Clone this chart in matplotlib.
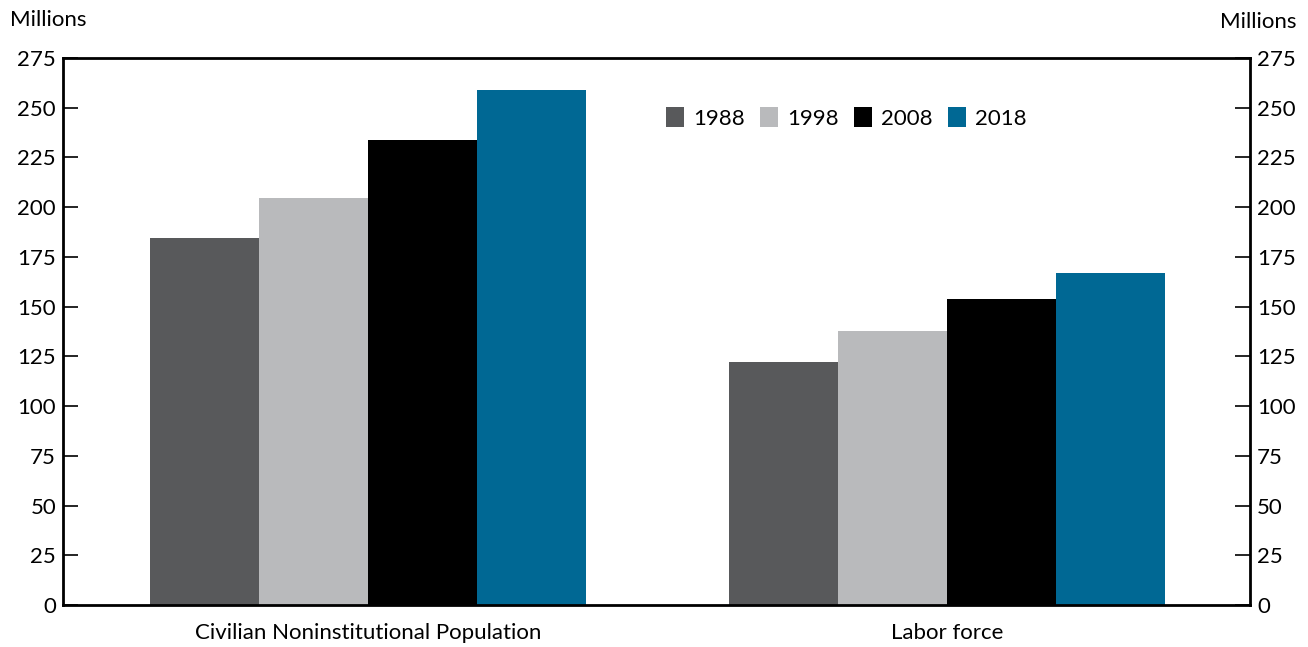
import matplotlib.pyplot as plt
import numpy as np

plt.rcParams['font.family'] = ['Lato', 'DejaVu Sans']

categories = ['Civilian Noninstitutional Population', 'Labor force']
years = ['1988', '1998', '2008', '2018']
values = {
    '1988': [184.6, 122.2],
    '1998': [204.7, 137.8],
    '2008': [233.9, 153.9],
    '2018': [259.1, 167.0],
}
colors = ['#58595b', '#b9babc', '#000000', '#006894']

fig = plt.figure(figsize=(13.08, 6.47), dpi=100)
ax = fig.add_axes([63 / 1308, 1 - 605 / 647, 1187 / 1308, 547 / 647])

ind = np.arange(len(categories))
width = 0.188
for i, yr in enumerate(years):
    ax.bar(ind + (i - 1.5) * width, values[yr], width, color=colors[i],
           label=yr, zorder=2)

ax.set_xlim(-0.527, 1.523)
ax.set_ylim(0, 275)
ax.set_yticks(np.arange(0, 276, 25))
ax.set_xticks(ind)
ax.set_xticklabels(categories, fontsize=16)
ax.tick_params(axis='x', length=0, pad=13)
ax.tick_params(axis='y', direction='in', length=11, width=1.2, labelsize=16,
               left=True, right=True, labelleft=True, labelright=True, pad=5)
for s in ax.spines.values():
    s.set_linewidth(2)
    s.set_color('black')

ax.legend(loc='center', bbox_to_anchor=(0.66, 0.89), ncol=4, frameon=False,
          fontsize=16, handlelength=0.8, handleheight=1.0, columnspacing=0.7,
          handletextpad=0.4)

fig.text(10 / 1308, 1 - 20 / 647, 'Millions', fontsize=16, va='center', ha='left')
fig.text(1296 / 1308, 1 - 22 / 647, 'Millions', fontsize=16, va='center', ha='right')

fig.savefig('out.png', dpi=100)
